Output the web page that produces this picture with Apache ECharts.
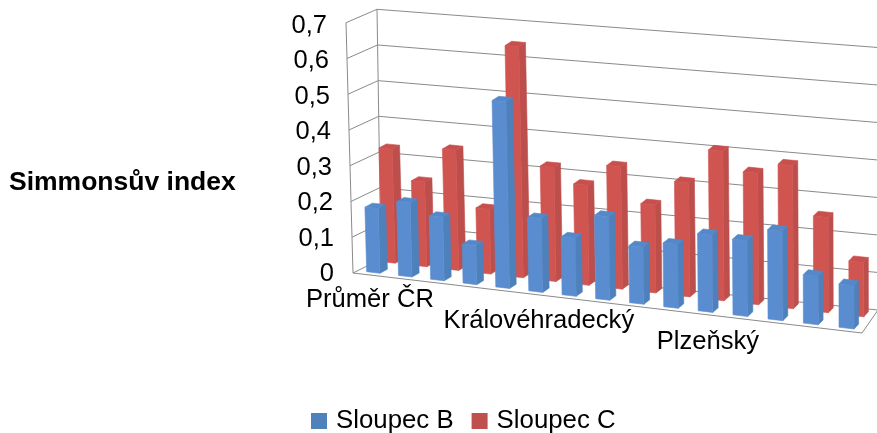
<!DOCTYPE html>
<html><head><meta charset="utf-8">
<style>html,body{margin:0;padding:0;background:#fff}#c{width:877px;height:433px}</style>
<script src="https://cdn.jsdelivr.net/npm/echarts@6/dist/echarts.min.js"></script>
</head><body><div id="c"></div>
<script>
const titleText = 'Simmonsův index';
const seriesNames = ['Sloupec B', 'Sloupec C'];
// Only three category names are printed in the picture
const categories = ['Průměr ČR','','','','','Královéhradecký','','','','','Plzeňský','','','',''];
const sloupecB = [0.18,0.205,0.175,0.107,0.51,0.2,0.157,0.225,0.153,0.17,0.205,0.2,0.235,0.127,0.113];
const sloupecC = [0.32,0.237,0.335,0.18,0.64,0.315,0.275,0.335,0.24,0.31,0.405,0.355,0.385,0.255,0.145];
const ticks = [0,0.1,0.2,0.3,0.4,0.5,0.6,0.7];

const G = {left:353, width:507, top:26, height:248};
const YMAX = 0.7;
const lerp = (a,b,t)=>a+(b-a)*t;
const warp = u => u*(1-0.065)+0.065*u*u;

// Perspective box of the walls: Front/Back, Left/Right, Bottom/Top
const FLB=[353,273],FLT=[346,22.7],BLB=[381,259],BLT=[377,9.3],FRB=[862,333],BRB=[878,310],BRT=[878,47.5];
const mix=(p,q,t)=>[lerp(p[0],q[0],t),lerp(p[1],q[1],t)];

// Projection of one bar corner. u: 0..1 across the grid, row: 0 blue / 1 red, side: 0 front / 1 back, val: data value
function project(u,row,side,val){
  const w=warp(u);
  const x=357.5+507*w + row*(15.5-5.9*w) + side*(7.5-3*w);
  const y=270.6+59.7*w - row*(10+2.3*w) - side*(4+1*w);
  const hScale=lerp(lerp(358,385,w),lerp(355,375,w),row);
  return [x-10*(1-w)*val, y-hScale*val];
}
const FRONT=['#5a8dd0','#d05450'],SIDE=['#4e80bb','#bc4e4b'],TOP=['#5588c8','#c84f4c'];

function barRenderer(row){
  return function(params,api){
    const i=api.value(0),val=api.value(1);
    const pt=api.coord([i,val]), base=api.coord([i,0]);
    const band=api.size([1,0])[0];
    const cs=params.coordSys;
    const v=(base[1]-pt[1])/cs.height*YMAX;
    const ul=(pt[0]-0.21*band-cs.x)/cs.width, ur=(pt[0]+0.21*band-cs.x)/cs.width;
    const poly=(pts,fill)=>({type:'polygon',shape:{points:pts},style:{fill:fill,stroke:fill,lineWidth:0.6}});
    return {type:'group',children:[
      poly([project(ur,row,0,0),project(ur,row,1,0),project(ur,row,1,v),project(ur,row,0,v)],SIDE[row]),
      poly([project(ul,row,0,v),project(ur,row,0,v),project(ur,row,1,v),project(ul,row,1,v)],TOP[row]),
      poly([project(ul,row,0,0),project(ur,row,0,0),project(ur,row,0,v),project(ul,row,0,v)],FRONT[row])
    ]};
  };
}
function wallRenderer(params,api){
  const t=api.value(0);
  const cs=params.coordSys;
  const y=api.coord([0,t])[1];
  const v=(cs.y+cs.height-y)/cs.height;
  const fl=mix(FLB,FLT,v), bl=mix(BLB,BLT,v), br=mix(BRB,BRT,v);
  const ls={stroke:'#8a8a8a',lineWidth:1,fill:null};
  const kids=[{type:'polyline',shape:{points:[fl,bl,br]},style:ls}];
  if(t===0){
    kids.push({type:'polyline',shape:{points:[FLT,FLB,FRB,BRB]},style:ls});
    kids.push({type:'line',shape:{x1:BLT[0],y1:BLT[1],x2:BLB[0],y2:BLB[1]},style:ls});
  }
  return {type:'group',children:kids};
}
const yPad={0:1,0.1:1,0.2:2,0.3:3,0.4:4,0.5:5,0.6:6,0.7:8};
const chart=echarts.init(document.getElementById('c'));
chart.setOption({
  animation:false,
  backgroundColor:'#fff',
  textStyle:{fontFamily:'Liberation Sans'},
  title:{text:titleText,left:9,top:169,padding:0,textStyle:{fontFamily:'Liberation Sans',fontWeight:'bold',fontSize:26.5,color:'#000'}},
  legend:{data:seriesNames,left:311,top:408,padding:0,icon:'rect',itemWidth:16,itemHeight:16,itemGap:18,
    textStyle:{fontFamily:'Liberation Sans',fontSize:25.8,color:'#000',padding:[0,0,0,4]}},
  grid:{left:G.left,width:G.width,top:G.top,height:G.height},
  xAxis:{type:'category',data:categories,
    axisLine:{show:false},axisTick:{show:false},splitLine:{show:false},
    axisLabel:{interval:4,margin:13,color:'#000',fontSize:25.6,fontFamily:'Liberation Sans',
      formatter:(val,idx)=>'{p'+idx+'|'+val+'}',
      rich:{p0:{padding:[0,0,0,0],fontSize:25.6},p5:{padding:[21,0,0,0],fontSize:25.6},p10:{padding:[42,0,0,0],fontSize:25.6}}}},
  yAxis:{type:'value',min:0,max:YMAX,interval:0.1,
    axisLine:{show:false},axisTick:{show:false},splitLine:{show:false},
    axisLabel:{margin:18,color:'#000',fontSize:25.5,fontFamily:'Liberation Sans',
      formatter:v=>{const r=Math.round(v*10);return '{s'+r+'|'+String(r===0?0:(r/10)).replace('.',',')+'}';},
      rich:Object.fromEntries(ticks.map(t=>['s'+Math.round(t*10),{fontSize:25.5,padding:[0,yPad[t],0,0]}]))}},
  series:[
    {type:'custom',name:'walls',coordinateSystem:'cartesian2d',renderItem:wallRenderer,data:ticks.map(t=>[t]),encode:{y:0},z:1,silent:true,clip:false},
    {type:'custom',name:seriesNames[1],renderItem:barRenderer(1),data:sloupecC.map((v,i)=>[i,v]),encode:{x:0,y:1},z:2,itemStyle:{color:'#c0504d'},clip:false},
    {type:'custom',name:seriesNames[0],renderItem:barRenderer(0),data:sloupecB.map((v,i)=>[i,v]),encode:{x:0,y:1},z:3,itemStyle:{color:'#4f81bd'},clip:false}
  ]
});
</script></body></html>
